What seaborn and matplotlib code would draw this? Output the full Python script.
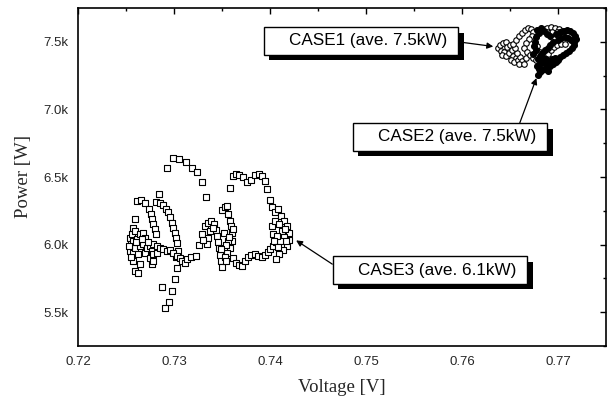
import pandas as pd
import seaborn as sns
import matplotlib.pyplot as plt
import matplotlib.patheffects as pe
from matplotlib.ticker import MultipleLocator, FuncFormatter

sns.set_theme(style="white")
plt.rcParams['font.family'] = ['Liberation Sans', 'DejaVu Sans']

# --------------------------
# Data
# --------------------------
# CASE3 (open squares)
case3_v = [
    0.7254, 0.7254, 0.7255, 0.7256, 0.7257, 0.7257, 0.7257, 0.7257, 0.7259, 0.7259,
    0.7259, 0.7259, 0.7261, 0.7262, 0.7262, 0.7265, 0.7265, 0.7265, 0.7268, 0.7268,
    0.7270, 0.7270, 0.7272, 0.7275, 0.7275, 0.7277, 0.7277, 0.7278, 0.7278, 0.7278,
    0.7282, 0.7282, 0.7285, 0.7255, 0.7260, 0.7267, 0.7273, 0.7253,
    0.7261, 0.7266, 0.7270, 0.7274, 0.7276, 0.7277, 0.7278, 0.7280, 0.7281,
    0.7284, 0.7281, 0.7285, 0.7289, 0.7292, 0.7294, 0.7296, 0.7298, 0.7299, 0.7301,
    0.7302, 0.7303, 0.7304,
    0.7302, 0.7303, 0.7301, 0.7298, 0.7295, 0.7291, 0.7287,
    0.7289, 0.7293, 0.7296, 0.7299, 0.7303, 0.7306, 0.7308, 0.7311, 0.7314, 0.7318, 0.7323,
    0.7293, 0.7299, 0.7305, 0.7313, 0.7319, 0.7324, 0.7329, 0.7333,
    0.7326, 0.7329, 0.7332, 0.7335, 0.7339, 0.7342, 0.7344, 0.7345, 0.7346, 0.7347,
    0.7348, 0.7349, 0.7350, 0.7335, 0.7334, 0.7338, 0.7341, 0.7330,
    0.7350, 0.7353, 0.7355, 0.7356, 0.7358, 0.7359, 0.7360, 0.7360, 0.7358, 0.7355,
    0.7356, 0.7354, 0.7352, 0.7357, 0.7361, 0.7349, 0.7353, 0.7354,
    0.7361, 0.7365, 0.7368, 0.7371, 0.7374, 0.7377, 0.7380, 0.7384, 0.7387, 0.7392,
    0.7395, 0.7398, 0.7400, 0.7403, 0.7406,
    0.7358, 0.7361, 0.7365, 0.7368, 0.7372, 0.7376, 0.7380, 0.7384, 0.7389, 0.7392,
    0.7395, 0.7397, 0.7400, 0.7402, 0.7405, 0.7408, 0.7411, 0.7415, 0.7418, 0.7420,
    0.7420, 0.7418, 0.7414, 0.7409, 0.7406,
    0.7403, 0.7402, 0.7405, 0.7409, 0.7413, 0.7415, 0.7416, 0.7417, 0.7410, 0.7407,
    0.7404, 0.7408,
]
case3_p = [
    6052, 5955, 6007, 6082, 6126, 6030, 5941, 5881, 6193, 6104,
    5978, 5807, 6045, 5933, 5792, 6082, 5993, 5859, 6089, 6007,
    6052, 5941, 5978, 5993, 5903, 5955, 5859, 6007, 5933, 5881,
    5993, 5941, 5978, 5911, 6022, 6045, 6022, 5993,
    6320, 6327, 6305, 6267, 6230, 6193, 6156, 6119, 6082,
    6372, 6312, 6305, 6290, 6267, 6238, 6201, 6163, 6126, 6089,
    6052, 6015, 5955,
    5911, 5829, 5747, 5658, 5576, 5532, 5688,
    5970, 5955, 5963, 5941, 5918, 5903, 5881, 5866, 5896, 5911, 5918,
    6565, 6639, 6632, 6609, 6565, 6535, 6461, 6349,
    6000, 6082, 6134, 6163, 6171, 6149, 6111, 6067, 6022, 5978,
    5926, 5881, 5837, 6052, 6007, 6104, 6126, 6037,
    6253, 6275, 6282, 6230, 6178, 6134, 6089, 6030, 5978, 5941,
    6030, 6000, 6089, 6059, 6119, 5970, 5911, 5881,
    5903, 5866, 5851, 5844, 5881, 5911, 5926, 5933, 5918, 5911,
    5926, 5948, 5970, 5993, 6022,
    6416, 6505, 6520, 6513, 6498, 6461, 6476, 6513, 6520, 6505,
    6468, 6409, 6327, 6275, 6238, 6260, 6215, 6178, 6134, 6089,
    6037, 5993, 5963, 5933, 5896,
    6082, 6134, 6178, 6156, 6104, 6059, 6119, 6030, 6030, 6067,
    6030, 5985,
]

# CASE1 (open circles)
case1_v = [
    0.7638, 0.7640, 0.7643, 0.7646, 0.7641, 0.7644, 0.7647, 0.7650, 0.7642, 0.7646,
    0.7649, 0.7652, 0.7653, 0.7656, 0.7651, 0.7654, 0.7658, 0.7660, 0.7663, 0.7659,
    0.7665, 0.7657, 0.7655, 0.7667,
    0.7653, 0.7656, 0.7659, 0.7663, 0.7666, 0.7669, 0.7672, 0.7674, 0.7673, 0.7670,
    0.7667, 0.7665, 0.7668, 0.7671,
    0.7684, 0.7689, 0.7693, 0.7697, 0.7701, 0.7704, 0.7699, 0.7694, 0.7689,
    0.7678, 0.7681, 0.7685, 0.7690, 0.7693, 0.7696, 0.7699, 0.7703, 0.7707, 0.7674,
    0.7677,
]
case1_p = [
    7456, 7479, 7493, 7501, 7434, 7427, 7464, 7479, 7404, 7397,
    7419, 7441, 7397, 7382, 7367, 7352, 7367, 7389, 7360, 7337,
    7337, 7419, 7456, 7382,
    7486, 7516, 7545, 7568, 7590, 7605, 7597, 7575, 7545, 7523,
    7493, 7456, 7427, 7404,
    7597, 7605, 7612, 7605, 7597, 7583, 7575, 7575, 7575,
    7471, 7427, 7404, 7412, 7441, 7464, 7479, 7486, 7486, 7382,
    7367,
]

# CASE2 (filled circles)
case2_v = [
    0.7678, 0.7680, 0.7677, 0.7676, 0.7675, 0.7677, 0.7674, 0.7682, 0.7685, 0.7689,
    0.7692, 0.7698, 0.7702, 0.7706, 0.7709, 0.7713, 0.7716, 0.7718, 0.7719, 0.7717,
    0.7714, 0.7710, 0.7707, 0.7703, 0.7700, 0.7717, 0.7715, 0.7711, 0.7708, 0.7705,
    0.7702, 0.7695, 0.7692, 0.7690, 0.7686, 0.7683, 0.7681, 0.7679, 0.7682, 0.7685,
    0.7689, 0.7692, 0.7695, 0.7698, 0.7700, 0.7697, 0.7694, 0.7691, 0.7688, 0.7684,
    0.7681, 0.7678, 0.7680, 0.7683, 0.7686, 0.7690, 0.7681, 0.7679,
]
case2_p = [
    7590, 7568, 7538, 7501, 7471, 7441, 7412, 7605, 7583, 7560,
    7545, 7560, 7575, 7583, 7590, 7583, 7568, 7545, 7523, 7501,
    7516, 7531, 7538, 7531, 7516, 7479, 7456, 7434, 7419, 7404,
    7389, 7501, 7479, 7456, 7441, 7419, 7397, 7375, 7360, 7345,
    7330, 7323, 7337, 7352, 7367, 7382, 7375, 7360, 7375, 7382,
    7337, 7323, 7300, 7293, 7300, 7285, 7278, 7256,
]

labels = ["CASE1 (ave. 7.5kW)", "CASE2 (ave. 7.5kW)", "CASE3 (ave. 6.1kW)"]

df3 = pd.DataFrame({"voltage": case3_v, "power": case3_p})
df1 = pd.DataFrame({"voltage": case1_v, "power": case1_p})
df2 = pd.DataFrame({"voltage": case2_v, "power": case2_p})

# --------------------------
# Plot
# --------------------------
fig = plt.figure(figsize=(6.11, 4.01), dpi=100)
ax = fig.add_axes([78 / 611, 1 - 346 / 401, 528 / 611, 338 / 401])

sns.scatterplot(data=df3, x="voltage", y="power", ax=ax, marker="s", s=16,
                facecolor="white", edgecolor="black", linewidth=0.8, zorder=3)
sns.scatterplot(data=df1, x="voltage", y="power", ax=ax, marker="o", s=16,
                facecolor="white", edgecolor="black", linewidth=0.8, zorder=3)
sns.scatterplot(data=df2, x="voltage", y="power", ax=ax, marker="o", s=18,
                facecolor="black", edgecolor="black", linewidth=0.8, zorder=4)

ax.set_xlim(0.72, 0.775)
ax.set_ylim(5250, 7750)
ax.xaxis.set_major_locator(MultipleLocator(0.01))
ax.xaxis.set_minor_locator(MultipleLocator(0.005))
ax.yaxis.set_major_locator(MultipleLocator(500))
ax.yaxis.set_minor_locator(MultipleLocator(250))
ax.xaxis.set_major_formatter(FuncFormatter(lambda v, _: f"{v:.2f}"))
ax.yaxis.set_major_formatter(FuncFormatter(lambda v, _: f"{v / 1000:.1f}k"))

ax.tick_params(which="both", direction="in", top=True, right=True,
               width=1.0, color="black", labelsize=9.5)
ax.tick_params(which="major", length=4, pad=7)
ax.tick_params(which="minor", length=2.5)
for sp in ax.spines.values():
    sp.set_color("black")
    sp.set_linewidth(1.2)

ax.set_xlabel("Voltage [V]", family=["Liberation Serif", "DejaVu Serif"],
              fontsize=13.5, labelpad=8)
ax.set_ylabel("Power [W]", family=["Liberation Serif", "DejaVu Serif"],
              fontsize=13.5, labelpad=8)

# annotation boxes with drop shadow
notes = [
    (labels[0], (0.7634, 7464), (361, 360), (1.0, 0.5)),
    (labels[1], (0.7678, 7241), (450, 264), (0.87, 1.0)),
    (labels[2], (0.7426, 6037), (430, 131), (0.0, 0.6)),
]
for txt, tip, pos, rel in notes:
    t = ax.annotate("    " + txt + " ", xy=tip, xycoords="data",
                    xytext=pos, textcoords="figure pixels",
                    ha="center", va="center", fontsize=12.3, color="black",
                    bbox=dict(boxstyle="square,pad=0.36", fc="white",
                              ec="black", lw=1.0),
                    arrowprops=dict(arrowstyle="-|>", color="black", lw=0.9,
                                    mutation_scale=9, relpos=rel,
                                    shrinkA=0, shrinkB=1),
                    zorder=6)
    t.get_bbox_patch().set_path_effects(
        [pe.withSimplePatchShadow(offset=(4, -4), shadow_rgbFace="black", alpha=1.0)])

fig.savefig("out.png", dpi=100)
